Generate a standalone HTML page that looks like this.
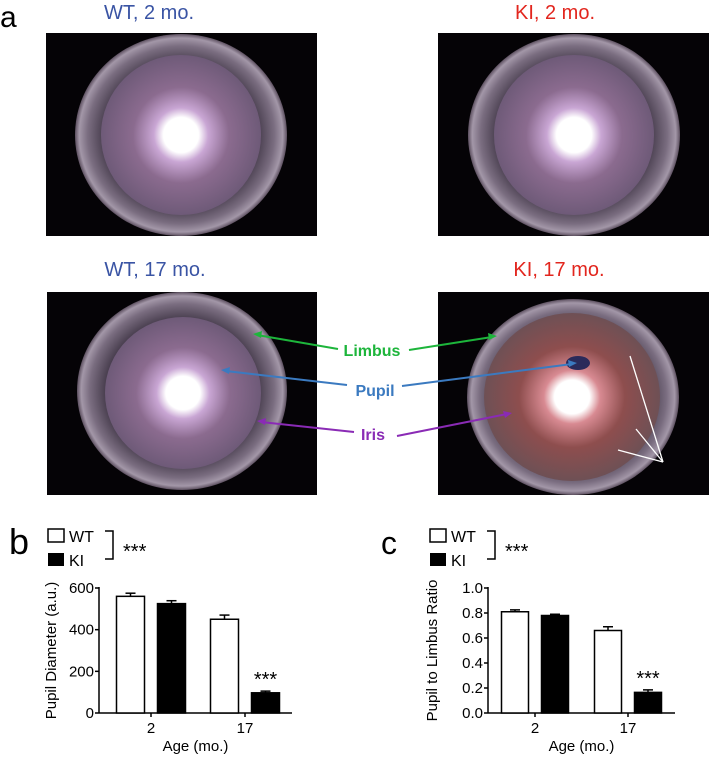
<!DOCTYPE html>
<html><head><meta charset="utf-8">
<style>
html,body{margin:0;padding:0;background:#fff;}
body{width:709px;height:758px;overflow:hidden;position:relative;font-family:"Liberation Sans",Arial,sans-serif;}
svg{position:absolute;left:0;top:0;}
</style></head>
<body>
<svg id="fig" width="709" height="758" viewBox="0 0 709 758" xmlns="http://www.w3.org/2000/svg">
<defs>
  <radialGradient id="ring" cx="50%" cy="50%" r="50%">
    <stop offset="0%" stop-color="#6a5670"/>
    <stop offset="70%" stop-color="#3f3545"/>
    <stop offset="88%" stop-color="#7a6d80"/>
    <stop offset="96%" stop-color="#a397a8"/>
    <stop offset="100%" stop-color="#5d5060"/>
  </radialGradient>
  <radialGradient id="iris" cx="50%" cy="50%" r="50%">
    <stop offset="0%" stop-color="#fff"/>
    <stop offset="22%" stop-color="#fff"/>
    <stop offset="34%" stop-color="#c9a6d4"/>
    <stop offset="60%" stop-color="#8b6b8f"/>
    <stop offset="100%" stop-color="#6e5a78"/>
  </radialGradient>
  <radialGradient id="irisKI" cx="50%" cy="50%" r="50%">
    <stop offset="0%" stop-color="#fff"/>
    <stop offset="20%" stop-color="#fff"/>
    <stop offset="32%" stop-color="#d88a92"/>
    <stop offset="60%" stop-color="#8e4e4e"/>
    <stop offset="100%" stop-color="#6e5055"/>
  </radialGradient>
</defs>

<text x="0" y="27" font-size="30" fill="#000">a</text>
<text x="149" y="19" font-size="20" fill="#3a54a4" text-anchor="middle">WT, 2 mo.</text>
<text x="555" y="19" font-size="20" fill="#e2261e" text-anchor="middle">KI, 2 mo.</text>
<text x="155" y="276" font-size="20" fill="#3a54a4" text-anchor="middle">WT, 17 mo.</text>
<text x="559" y="276" font-size="20" fill="#e2261e" text-anchor="middle">KI, 17 mo.</text>

<g>
  <rect x="46" y="33" width="271" height="203" fill="#050306"/>
  <ellipse cx="181" cy="135" rx="106" ry="101" fill="url(#ring)"/>
  <ellipse cx="181" cy="135" rx="80" ry="80" fill="url(#iris)"/>
</g>
<g>
  <rect x="438" y="33" width="271" height="203" fill="#050306"/>
  <ellipse cx="574" cy="135" rx="106" ry="101" fill="url(#ring)"/>
  <ellipse cx="574" cy="135" rx="80" ry="80" fill="url(#iris)"/>
</g>
<g>
  <rect x="47" y="292" width="270" height="203" fill="#050306"/>
  <ellipse cx="182" cy="391" rx="105" ry="99" fill="url(#ring)"/>
  <ellipse cx="183" cy="393" rx="78" ry="76" fill="url(#iris)"/>
</g>
<g>
  <rect x="438" y="292" width="271" height="203" fill="#050306"/>
  <ellipse cx="573" cy="397" rx="106" ry="98" fill="url(#ring)"/>
  <ellipse cx="572" cy="397" rx="88" ry="84" fill="url(#irisKI)"/>
  <ellipse cx="578" cy="363" rx="12" ry="7" fill="#2a2a5a"/>
</g>

<g stroke-width="2" fill="none">
  <line x1="338" y1="349" x2="257" y2="335" stroke="#1db53b"/>
  <line x1="409" y1="350" x2="492" y2="337" stroke="#1db53b"/>
  <line x1="347" y1="385" x2="226" y2="371" stroke="#3b7ac0"/>
  <line x1="402" y1="386" x2="572" y2="364" stroke="#3b7ac0"/>
  <line x1="354" y1="432" x2="261" y2="422" stroke="#8a2bb5"/>
  <line x1="397" y1="436" x2="507" y2="414" stroke="#8a2bb5"/>
</g>
<polygon points="253,334 262,331 261,338" fill="#1db53b"/>
<polygon points="497,336 488,333 489,340" fill="#1db53b"/>
<polygon points="221,370 230,367 229,374" fill="#3b7ac0"/>
<polygon points="577,363 568,360 569,367" fill="#3b7ac0"/>
<polygon points="257,421 266,418 265,425" fill="#8a2bb5"/>
<polygon points="512,413 503,411 505,418" fill="#8a2bb5"/>
<text x="372" y="356" font-size="16" font-weight="bold" fill="#1db53b" text-anchor="middle">Limbus</text>
<text x="375" y="396" font-size="16" font-weight="bold" fill="#3b7ac0" text-anchor="middle">Pupil</text>
<text x="373" y="440" font-size="16" font-weight="bold" fill="#8a2bb5" text-anchor="middle">Iris</text>
<g stroke="#fff" stroke-width="1.3">
  <line x1="663" y1="462" x2="630" y2="356"/>
  <line x1="663" y1="462" x2="636" y2="429"/>
  <line x1="663" y1="462" x2="618" y2="450"/>
</g>

<g id="chartB"></g>
<g id="chartC"></g>
</svg>
<script>
const categories = ["2", "17"];
const seriesNames = ["WT", "KI"];
const pupilWT = [560, 450];
const pupilWTErr = [15, 20];
const pupilKI = [525, 97];
const pupilKIErr = [14, 8];
const ratioWT = [0.81, 0.66];
const ratioWTErr = [0.015, 0.03];
const ratioKI = [0.78, 0.165];
const ratioKIErr = [0.01, 0.02];
const pupilTicks = [0, 200, 400, 600];
const pupilTickLabels = ["0", "200", "400", "600"];
const ratioTicks = [0, 0.2, 0.4, 0.6, 0.8, 1.0];
const ratioTickLabels = ["0.0", "0.2", "0.4", "0.6", "0.8", "1.0"];

const NS = "http://www.w3.org/2000/svg";
function mk(parent, tag, attrs, text) {
  const e = document.createElementNS(NS, tag);
  for (const k in attrs) e.setAttribute(k, attrs[k]);
  if (text !== undefined) e.textContent = text;
  parent.appendChild(e);
  return e;
}

function drawChart(g, cfg) {
  const {ox, ax0, ax1, y0, y1, vmax, ticks, tickLabels, wt, wtErr, ki, kiErr, ytitle, letter, letterFont, groupCenters, barW, gap} = cfg;
  const y = v => y0 - (v / vmax) * (y0 - y1);
  let t;
  t = mk(g, "text", {x: ox + 9, y: 554, "font-size": letterFont, fill: "#000"}, letter);
  
  
  const lx = cfg.legendX;
  let r = mk(g, "rect", {x: lx, y: 529, width: 16, height: 13, fill: "#fff", stroke: "#000", "stroke-width": 1.5});
  
  
  t = mk(g, "text", {x: lx + 21, y: 542, "font-size": 16, fill: "#000"}, seriesNames[0]);
  
  
  r = mk(g, "rect", {x: lx, y: 553, width: 16, height: 13, fill: "#000"});
  
  
  t = mk(g, "text", {x: lx + 21, y: 566, "font-size": 16, fill: "#000"}, seriesNames[1]);
  
  
  const bx = lx + 65;
  let p = mk(g, "path", {d: `M${bx-8},531 H${bx} V559 H${bx-8}`, fill: "none", stroke: "#000", "stroke-width": 1.5});
  
  
  t = mk(g, "text", {x: bx + 10, y: 558, "font-size": 20, fill: "#000"}, "***");
  
  
  let l = mk(g, "line", {x1: ax0, y1: y1 - 1, x2: ax0, y2: y0, stroke: "#000", "stroke-width": 1.5});
  
  
  l = mk(g, "line", {x1: ax0, y1: y0, x2: ax1, y2: y0, stroke: "#000", "stroke-width": 1.5});
  
  
  ticks.forEach((v, i) => {
    const tl = mk(g, "line", {x1: ax0 - 4, y1: y(v), x2: ax0, y2: y(v), stroke: "#000", "stroke-width": 1.5});
    
    
    const tx = mk(g, "text", {x: ax0 - 5, y: y(v) + 5, "font-size": 15, "text-anchor": "end", fill: "#000"}, tickLabels[i]);
    
    
  });
  const ymid = (y0 + y1) / 2;
  t = mk(g, "text", {x: cfg.ytitleX, y: ymid, "font-size": 15, "text-anchor": "middle", fill: "#000", transform: `rotate(-90 ${cfg.ytitleX} ${ymid})`}, ytitle);
  
  
  categories.forEach((c, i) => {
    const cx = groupCenters[i];
    const tl = mk(g, "line", {x1: cx, y1: y0, x2: cx, y2: y0 + 4, stroke: "#000", "stroke-width": 1.5});
    
    
    const tx = mk(g, "text", {x: cx, y: y0 + 20, "font-size": 15, "text-anchor": "middle", fill: "#000"}, c);
    
    
    [[wt, wtErr, "#fff", -1, "wt"], [ki, kiErr, "#000", 1, "ki"]].forEach(([vals, errs, fill, side, nm]) => {
      const x = side < 0 ? cx - gap / 2 - barW : cx + gap / 2;
      const top = y(vals[i] + errs[i]);
      const el = mk(g, "line", {x1: x + barW / 2, y1: top, x2: x + barW / 2, y2: y(vals[i]), stroke: "#000", "stroke-width": 1.5});
      
      
      const ec = mk(g, "line", {x1: x + barW / 2 - 5, y1: top, x2: x + barW / 2 + 5, y2: top, stroke: "#000", "stroke-width": 1.5});
      
      
      const b = mk(g, "rect", {x: x, y: y(vals[i]), width: barW, height: y0 - y(vals[i]), fill: fill, stroke: "#000", "stroke-width": 1.5});
      
      
    });
  });
  const kx = groupCenters[1] + gap / 2 + barW / 2;
  t = mk(g, "text", {x: kx, y: y(ki[1] + kiErr[1]) - 5, "font-size": 20, "text-anchor": "middle", fill: "#000"}, "***");
  
  
  t = mk(g, "text", {x: (ax0 + ax1) / 2, y: 751, "font-size": 15, "text-anchor": "middle", fill: "#000"}, "Age (mo.)");
  
  
}

drawChart(document.getElementById("chartB"), {
  ox: 0, ax0: 99, ax1: 292, y0: 713, y1: 588, vmax: 600,
  ticks: pupilTicks, tickLabels: pupilTickLabels,
  wt: pupilWT, wtErr: pupilWTErr, ki: pupilKI, kiErr: pupilKIErr,
  ytitle: "Pupil Diameter (a.u.)", ytitleX: 56, letter: "b", letterFont: 36,
  groupCenters: [151, 245], barW: 28, gap: 13, legendX: 48
});
drawChart(document.getElementById("chartC"), {
  ox: 372, ax0: 488, ax1: 675, y0: 713, y1: 588, vmax: 1.0,
  ticks: ratioTicks, tickLabels: ratioTickLabels,
  wt: ratioWT, wtErr: ratioWTErr, ki: ratioKI, kiErr: ratioKIErr,
  ytitle: "Pupil to Limbus Ratio", ytitleX: 437, letter: "c", letterFont: 32,
  groupCenters: [535, 628], barW: 27, gap: 13, legendX: 430
});
</script>
</body></html>
